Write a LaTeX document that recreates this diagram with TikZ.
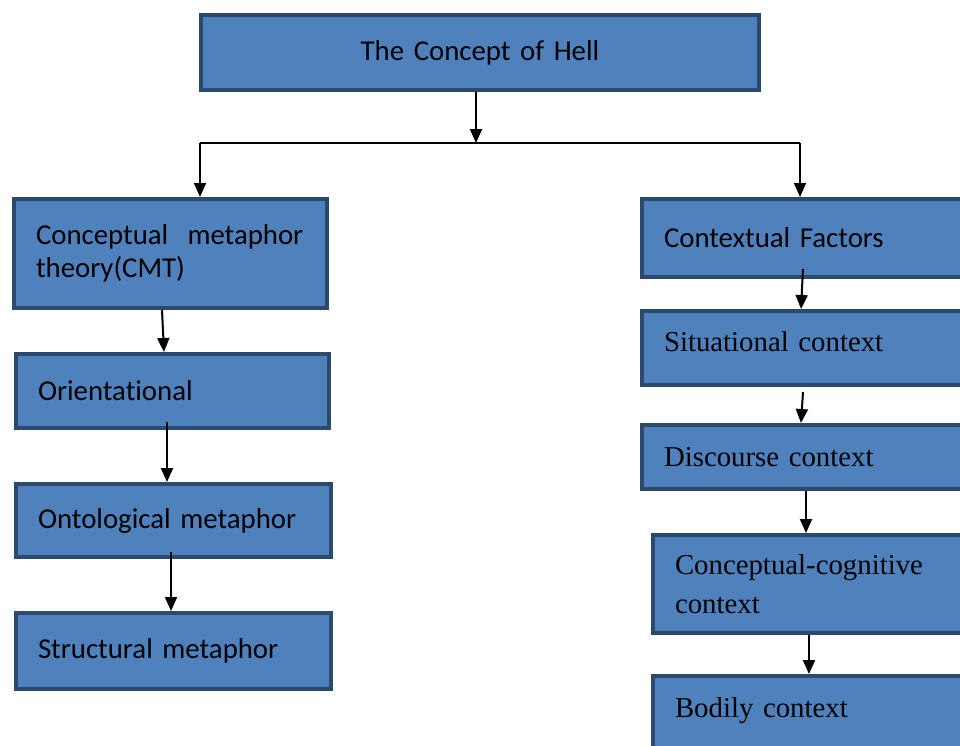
\documentclass[tikz,border=0pt]{standalone}
\usepackage{fontspec}
\newfontfamily\calfont[Ligatures=CommonOff,WordSpace=0.8]{Carlito}
\newfontfamily\tmsfont[WordSpace=0.8]{Liberation Serif}
\usetikzlibrary{arrows.meta,calc}
\definecolor{boxfill}{HTML}{4F81BD}
\definecolor{boxborder}{HTML}{2C4A6E}
\tikzset{
  box/.style={draw=boxborder, fill=boxfill, line width=4pt, anchor=north west,
    inner xsep=22pt, inner ysep=0pt, align=left, text=black},
  calstyle/.style={font=\calfont\fontsize{28.8}{33}\selectfont},
  tmsstyle/.style={font=\tmsfont\fontsize{28.8}{39}\selectfont},
  arr/.style={line width=2pt, -{Triangle[length=14pt,width=12pt]}},
  conn/.style={line width=2pt}
}
\begin{document}
\begin{tikzpicture}[x=1pt,y=-1pt]
\useasboundingbox (0,0) rectangle (960,745);
\clip (0,0) rectangle (960,745);
\node[box, calstyle, align=center, minimum width=558pt, minimum height=75pt, text width=514pt] (top) at (199,13) {The Concept of Hell};
\node[box, calstyle, minimum height=109pt, text width=269pt] (cmt) at (12,197) {Conceptual\ \ metaphor\\theory(CMT)};
\node[box, calstyle, minimum height=74pt, text width=269pt] (ori) at (14,352) {Orientational};
\node[box, calstyle, minimum height=73pt, text width=271pt] (onto) at (14,482) {Ontological metaphor};
\node[box, calstyle, minimum height=76pt, text width=271pt] (stru) at (14,611) {Structural metaphor};
\node[box, calstyle, minimum height=78pt, text width=304pt] (ctx) at (640,197) {Contextual Factors};
\node[box, tmsstyle, text height=40pt, text depth=34pt, text width=304pt] (sit) at (640,309) {Situational context};
\node[box, tmsstyle, minimum height=64pt, text width=304pt] (disc) at (640,423) {Discourse context};
\node[box, tmsstyle, minimum height=98pt, text width=304pt] (cog) at (651,533) {Conceptual-cognitive\\context};
\node[box, tmsstyle, text height=41pt, text depth=60pt, text width=304pt] (bod) at (651,674) {Bodily context};
% connectors
\coordinate (jm) at (476,143);
\coordinate (jl) at (200,143);
\coordinate (jr) at (800,143);
\draw[arr] (jm |- top.south) -- (jm);
\draw[conn] (jl) -- (jr);
\draw[arr] (jl) -- (jl |- cmt.north);
\draw[arr] (jr) -- (jr |- ctx.north);
\draw[arr] ($(cmt.south west)+(150,0)$) -- ($(ori.north west)+(150,0)$);
\draw[arr] ($(ori.south west)+(153,-8)$) -- ($(onto.north west)+(153,0)$);
\draw[arr] ($(onto.south west)+(157,-7)$) -- ($(stru.north west)+(157,0)$);
\draw[arr] ($(ctx.south west)+(163,-10)$) -- ($(sit.north west)+(161,0)$);
\draw[arr] ($(sit.south west)+(163,5)$) -- ($(disc.north west)+(161,0)$);
\draw[arr] ($(disc.south west)+(166,0)$) -- ($(cog.north west)+(155,0)$);
\draw[arr] ($(cog.south west)+(158,0)$) -- ($(bod.north west)+(158,0)$);
\end{tikzpicture}
\end{document}
